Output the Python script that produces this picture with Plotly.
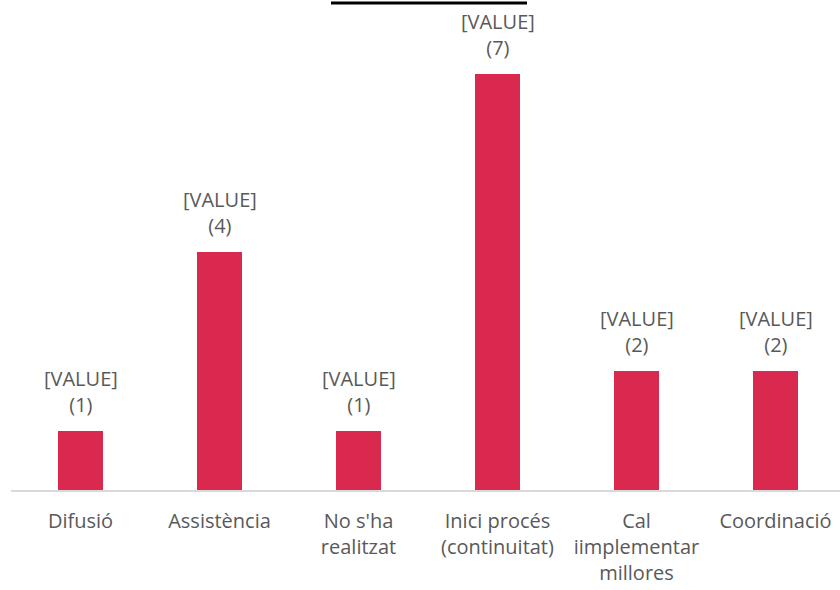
import plotly.graph_objects as go

categories = ["Difusió", "Assistència", "No s'ha<br>realitzat", "Inici procés<br>(continuitat)",
              "Cal<br>iimplementar<br>millores", "Coordinació"]
values = [1, 4, 1, 7, 2, 2]
label_prefix = "[VALUE]"

bar_color = "#DA294E"
font_family = "Open Sans, Noto Sans, sans-serif"
text_color = "#595959"

x = list(range(len(categories)))

fig = go.Figure()
fig.add_trace(go.Bar(
    x=x, y=values, width=0.32, marker=dict(color=bar_color, line=dict(width=0)),
    hoverinfo="skip",
))

for xi, v in zip(x, values):
    fig.add_annotation(
        x=xi, y=v, xref="x", yref="y",
        text=f"{label_prefix}<br>({v})", showarrow=False,
        yanchor="bottom", yshift=11,
        font=dict(family=font_family, size=20, color=text_color),
    )

# black rule at the top of the chart
fig.add_shape(type="line", xref="paper", yref="paper",
              x0=(331 - 11) / 829, x1=(527 - 11) / 829,
              y0=(490 - 3) / 490, y1=(490 - 3) / 490,
              line=dict(color="black", width=3))

fig.update_layout(
    width=840, height=590,
    margin=dict(l=11, r=0, t=0, b=100),
    plot_bgcolor="white", paper_bgcolor="white",
    showlegend=False,
    bargap=0,
    xaxis=dict(
        range=[-0.5, 5.464], tickmode="array", tickvals=x, ticktext=categories,
        showline=True, linecolor="#D9D9D9", linewidth=2, showgrid=False, zeroline=False,
        ticks="", tickfont=dict(family=font_family, size=20, color=text_color),
        ticklabelstandoff=12,
    ),
    yaxis=dict(range=[0, 8.25], visible=False, showgrid=False, zeroline=False),
)

fig.write_html("out.html", config={"displayModeBar": False},
               post_script="document.body.style.margin='0';")
